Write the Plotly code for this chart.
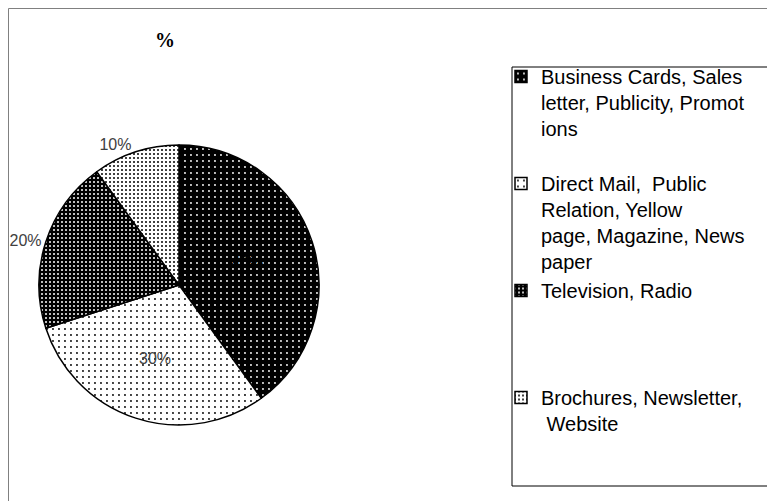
import plotly.graph_objects as go

categories = [
    "Business Cards, Sales<br>letter, Publicity, Promot<br>ions<br> ",
    "Direct Mail,  Public<br>Relation, Yellow<br>page, Magazine, News<br>paper",
    "Television, Radio<br> <br> <br> ",
    "Brochures, Newsletter,<br> Website<br> ",
]
values = [40, 30, 20, 10]
title_text = "%"

W, H = 775, 501
OFF = 8  # page body margin offset


def px_x(x):
    return (x - OFF) / W


def px_y(y):
    return 1 - (y - OFF) / H


fig = go.Figure()
fig.add_trace(go.Pie(
    labels=categories,
    values=values,
    sort=False,
    direction="clockwise",
    rotation=0,
    texttemplate="%{percent:.0%}",
    textinfo="percent",
    textposition=["inside", "inside", "outside", "outside"],
    textfont=dict(family="Liberation Sans, Arial, sans-serif", size=16,
                  color=["black", "#404040", "#404040", "#404040"]),
    insidetextorientation="horizontal",
    marker=dict(
        colors=["black", "white", "#202020", "#e0e0e0"],
        line=dict(color="black", width=1.5),
        pattern=dict(
            shape=[".", ".", ".", "."],
            bgcolor=["black", "white", "black", "white"],
            fgcolor=["white", "black", "white", "black"],
            size=[6, 6, 4, 4],
            solidity=[0.08, 0.08, 0.2, 0.2],
            fillmode="replace",
        ),
    ),
    domain=dict(x=[px_x(39), px_x(319)], y=[px_y(425), px_y(145)]),
    hoverinfo="label+percent",
    showlegend=True,
))

fig.update_layout(
    width=W, height=H,
    margin=dict(l=0, r=0, t=0, b=0, autoexpand=False),
    paper_bgcolor="white",
    plot_bgcolor="white",
    font=dict(family="Liberation Sans, Arial, sans-serif", color="black"),
    title=dict(text="<b>" + title_text + "</b>", x=px_x(165), y=px_y(40),
               xanchor="center", yanchor="middle",
               font=dict(size=20, color="black",
                         family="Liberation Serif, Times New Roman, serif")),
    legend=dict(
        x=px_x(501), y=px_y(57), xanchor="left", yanchor="top",
        borderwidth=0, bgcolor="rgba(0,0,0,0)",
        font=dict(size=20, color="black", family="Liberation Sans, Arial, sans-serif"),
        valign="top",
        itemclick=False, itemdoubleclick=False,
    ),
    shapes=[
        dict(type="line", xref="paper", yref="paper",
             x0=0.5 / W, x1=1.01, y0=1 - 0.5 / H, y1=1 - 0.5 / H,
             line=dict(color="#808080", width=1)),
        dict(type="line", xref="paper", yref="paper",
             x0=0.5 / W, x1=0.5 / W, y0=-0.01, y1=1 - 0.5 / H,
             line=dict(color="#808080", width=1)),
        dict(type="rect", xref="paper", yref="paper", layer="below",
             x0=px_x(512), x1=1.02, y0=px_y(486), y1=px_y(67),
             line=dict(color="black", width=1), fillcolor="white"),
    ],
)

fig.write_html("out.html")
